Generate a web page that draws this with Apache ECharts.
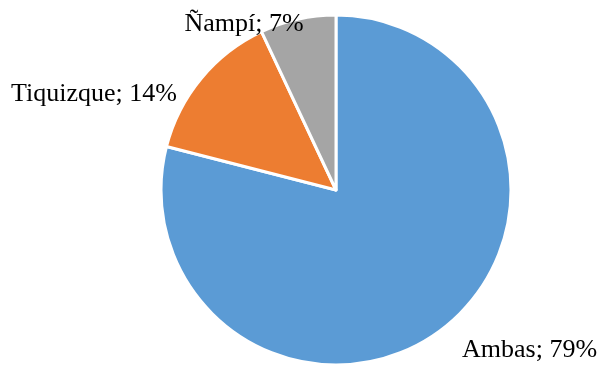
<!DOCTYPE html>
<html>
<head>
<meta charset="utf-8">
<script src="https://cdn.jsdelivr.net/npm/echarts@6/dist/echarts.min.js"></script>
<style>
  html, body { margin: 0; padding: 0; background: #fff; }
  #chart { width: 597px; height: 366px; }
</style>
</head>
<body>
<div id="chart"></div>
<script>
// Share of respondents by community
const categories = ['Ambas', 'Tiquizque', 'Ñampí'];
const shares = [79, 14, 7];
const colors = ['#5B9BD5', '#ED7D31', '#A5A5A5'];

// Where each category label sits around the pie
const labelSpots = {
  'Ambas':     { x: 462, y: 350, align: 'left' },
  'Tiquizque': { x: 177, y: 94,  align: 'right' },
  'Ñampí':     { x: 244, y: 24,  align: 'center' }
};

const chart = echarts.init(document.getElementById('chart'), null, { renderer: 'canvas' });

chart.setOption({
  animation: false,
  backgroundColor: '#ffffff',
  series: [{
    type: 'pie',
    center: [336, 190],
    radius: 175,
    startAngle: 90,
    clockwise: true,
    avoidLabelOverlap: false,
    data: categories.map((name, i) => ({
      name: name,
      value: shares[i],
      itemStyle: { color: colors[i] }
    })),
    itemStyle: { borderColor: '#ffffff', borderWidth: 3 },
    label: {
      show: true,
      position: 'outside',
      formatter: p => p.name + '; ' + p.value + '%',
      fontFamily: '"Liberation Serif", "DejaVu Serif", serif',
      fontSize: 26,
      color: '#000000'
    },
    labelLine: { show: false },
    labelLayout: function (params) {
      const name = categories[params.dataIndex];
      const s = labelSpots[name];
      return { x: s.x, y: s.y, align: s.align, verticalAlign: 'middle' };
    },
    emphasis: { disabled: true }
  }]
});
</script>
</body>
</html>
